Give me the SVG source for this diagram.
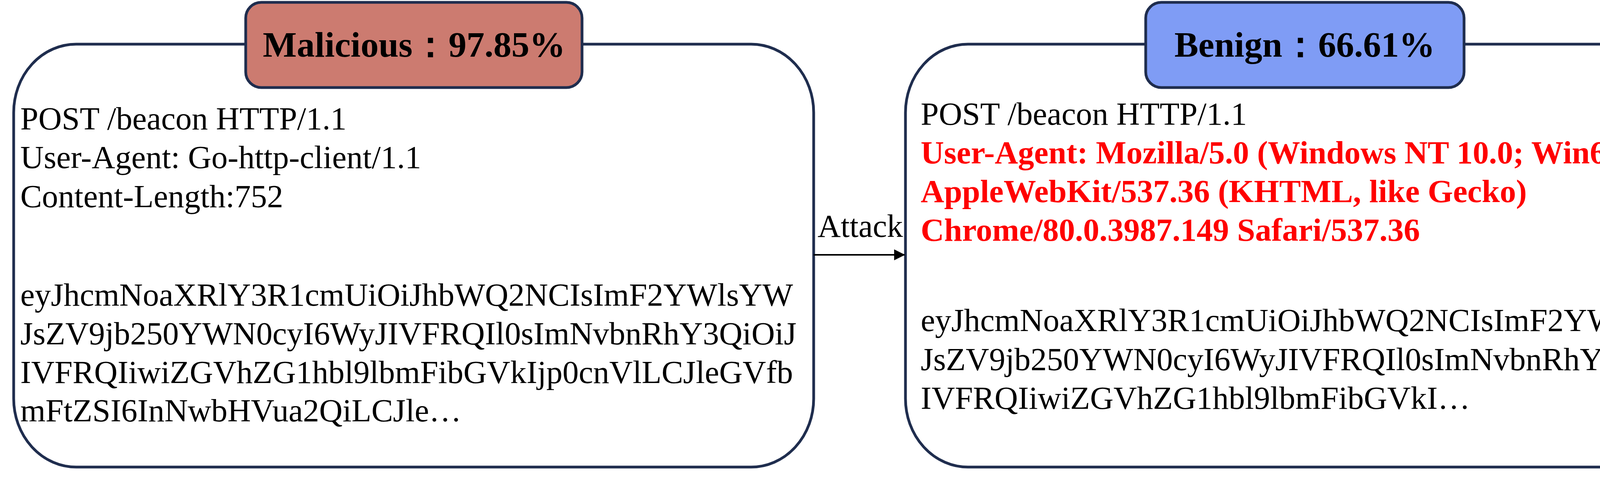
<svg xmlns="http://www.w3.org/2000/svg" width="4422" height="1223" viewBox="0 0 4422 1223">
<style>
.box{fill:#fff;stroke:#1f2d4e;stroke-width:7}
.lab{stroke:#1f2d4e;stroke-width:7}
.t{font-family:"Liberation Serif",serif;font-size:83px;fill:#000}
.r{font-family:"Liberation Serif",serif;font-size:83px;fill:#ff0000;font-weight:bold}
.h{font-family:"Liberation Serif",serif;font-size:92px;font-weight:bold;fill:#000;text-anchor:middle}
</style>
<defs><marker id="ar" markerWidth="28" markerHeight="28" refX="27" refY="14" orient="auto" markerUnits="userSpaceOnUse" viewBox="0 0 28 28"><path d="M0,0L28,14L0,28z" fill="#000"/></marker></defs>
<g id="malicious">
<rect class="box" x="35" y="113" width="2048" height="1082" rx="160" ry="175"/>
<rect class="lab" x="629" y="6" width="861" height="218" rx="40" fill="#cc7b70"/>
<text class="h" x="1060" y="145">Malicious：97.85%</text>
<text class="t" x="52" y="331">POST /beacon HTTP/1.1</text>
<text class="t" x="52" y="430">User-Agent: Go-http-client/1.1</text>
<text class="t" x="52" y="530">Content-Length:752</text>
<text class="t" x="52" y="782">eyJhcmNoaXRlY3R1cmUiOiJhbWQ2NCIsImF2YWlsYW</text>
<text class="t" x="52" y="881">JsZV9jb250YWN0cyI6WyJIVFRQIl0sImNvbnRhY3QiOiJ</text>
<text class="t" x="52" y="980">IVFRQIiwiZGVhZG1hbl9lbmFibGVkIjp0cnVlLCJleGVfb</text>
<text class="t" x="52" y="1078">mFtZSI6InNwbHVua2QiLCJle…</text>
</g>
<g id="benign">
<rect class="box" x="2318" y="113" width="2046" height="1082" rx="160" ry="175"/>
<rect class="lab" x="2933" y="6" width="815" height="218" rx="40" fill="#7f9cf5"/>
<text class="h" x="3340" y="145">Benign：66.61%</text>
<text class="t" x="2357" y="319">POST /beacon HTTP/1.1</text>
<text class="r" x="2357" y="418" textLength="1995" lengthAdjust="spacingAndGlyphs">User-Agent: Mozilla/5.0 (Windows NT 10.0; Win64; x64)</text>
<text class="r" x="2357" y="517">AppleWebKit/537.36 (KHTML, like Gecko)</text>
<text class="r" x="2357" y="616">Chrome/80.0.3987.149 Safari/537.36</text>
<text class="t" x="2357" y="847">eyJhcmNoaXRlY3R1cmUiOiJhbWQ2NCIsImF2YWlsYW</text>
<text class="t" x="2357" y="947">JsZV9jb250YWN0cyI6WyJIVFRQIl0sImNvbnRhY3QiOiJ</text>
<text class="t" x="2357" y="1046">IVFRQIiwiZGVhZG1hbl9lbmFibGVkI…</text>
</g>
<g id="connectors">
<line x1="2083" y1="652" x2="2316" y2="652" stroke="#000" stroke-width="4" marker-end="url(#ar)"/>
<text x="2093" y="606" style="font-family:'Liberation Serif',serif;font-size:82px">Attack</text>
</g>
</svg>
